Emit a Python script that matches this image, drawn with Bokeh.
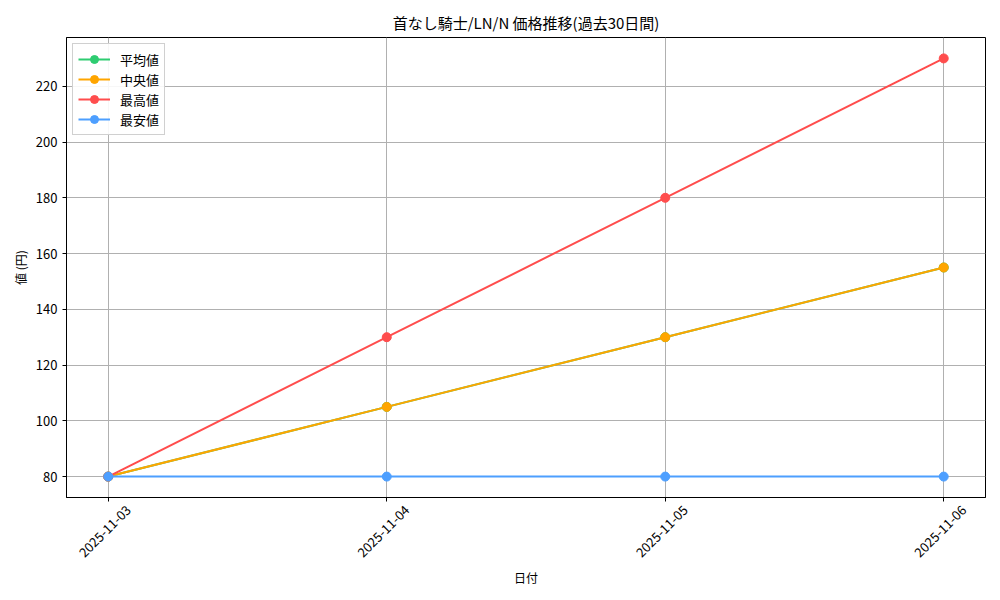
import math
from bokeh.plotting import figure
from bokeh.models import Range1d, FixedTicker, Legend, LegendItem, LinearAxis
from bokeh.embed import file_html
from bokeh.resources import INLINE

dates = ["2025-11-03", "2025-11-04", "2025-11-05", "2025-11-06"]
avg_vals = [80, 105, 130, 155]
median_vals = [80, 105, 130, 155]
max_vals = [80, 130, 180, 230]
min_vals = [80, 80, 80, 80]
y_ticks = [80, 100, 120, 140, 160, 180, 200, 220]

FONT = "Noto Sans CJK JP"

xs = list(range(len(dates)))
PAD = 0.15
LABEL_SHIFT = 0.072  # shift so rotated labels are centred under ticks

p = figure(width=992, height=592, output_backend="svg", toolbar_location=None,
           x_range=Range1d(-PAD, len(dates) - 1 + PAD),
           y_range=Range1d(72.5, 237.5),
           min_border_left=66, min_border_right=7, min_border_top=37, min_border_bottom=95)
p.extra_x_ranges = {"lbl": Range1d(-PAD - LABEL_SHIFT, len(dates) - 1 + PAD - LABEL_SHIFT)}

p.title.text = "首なし騎士/LN/N 価格推移(過去30日間)"
p.title.align = "center"
p.title.text_font = FONT
p.title.text_font_size = "15px"
p.title.text_font_style = "normal"
p.title.text_color = "black"

p.outline_line_color = "black"
p.outline_line_width = 1
p.background_fill_color = "white"
p.border_fill_color = "white"

for ax in (p.xaxis[0], p.yaxis[0]):
    ax.axis_line_color = "black"
    ax.major_tick_line_color = "black"
    ax.major_tick_out = 4
    ax.major_tick_in = 0
    ax.minor_tick_line_color = None
    ax.major_label_text_font = FONT
    ax.major_label_text_font_size = "13px"
    ax.major_label_text_color = "black"
    ax.axis_label_text_font = FONT
    ax.axis_label_text_font_size = "12px"
    ax.axis_label_text_font_style = "normal"
    ax.axis_label_text_color = "black"

xa = p.xaxis[0]
xa.ticker = FixedTicker(ticks=xs)
xa.major_label_overrides = {i: "" for i in xs}
xa.major_label_text_font_size = "1px"
xa.major_label_standoff = 0

lbl_axis = LinearAxis(x_range_name="lbl", ticker=FixedTicker(ticks=xs),
                      major_label_overrides={i: d for i, d in enumerate(dates)},
                      major_label_orientation=math.pi / 4,
                      axis_line_color=None, major_tick_line_color=None,
                      minor_tick_line_color=None, major_tick_out=0, major_tick_in=0,
                      major_label_standoff=6,
                      major_label_text_font=FONT, major_label_text_font_size="13px",
                      major_label_text_color="black",
                      axis_label="日付", axis_label_standoff=4,
                      axis_label_text_font=FONT, axis_label_text_font_size="12px",
                      axis_label_text_font_style="normal", axis_label_text_color="black")
p.add_layout(lbl_axis, "below")

p.yaxis.ticker = FixedTicker(ticks=y_ticks)
p.yaxis.axis_label = "値 (円)"
p.yaxis.axis_label_standoff = 4

p.xgrid.grid_line_color = "#b0b0b0"
p.ygrid.grid_line_color = "#b0b0b0"
p.xgrid.grid_line_width = 1
p.ygrid.grid_line_width = 1

series = [
    ("平均値", avg_vals, "#2ECC71"),
    ("中央値", median_vals, "#FFA500"),
    ("最高値", max_vals, "#FF4D4D"),
    ("最安値", min_vals, "#4D9FFF"),
]

items = []
for name, vals, color in series:
    r1 = p.line(xs, vals, line_color=color, line_width=2)
    r2 = p.scatter(xs, vals, size=9, fill_color=color, line_color=color)
    items.append(LegendItem(label=name, renderers=[r1, r2]))

legend = Legend(items=items, location="top_left")
legend.label_text_font = FONT
legend.label_text_font_size = "13px"
legend.label_text_color = "black"
legend.border_line_color = "#d0d0d0"
legend.border_line_alpha = 1
legend.background_fill_alpha = 0.9
legend.glyph_width = 32
legend.glyph_height = 20
legend.label_height = 20
legend.label_standoff = 10
legend.spacing = 0
legend.padding = 5
legend.margin = 6
p.add_layout(legend)

open("out.html", "w").write(file_html(p, INLINE))
